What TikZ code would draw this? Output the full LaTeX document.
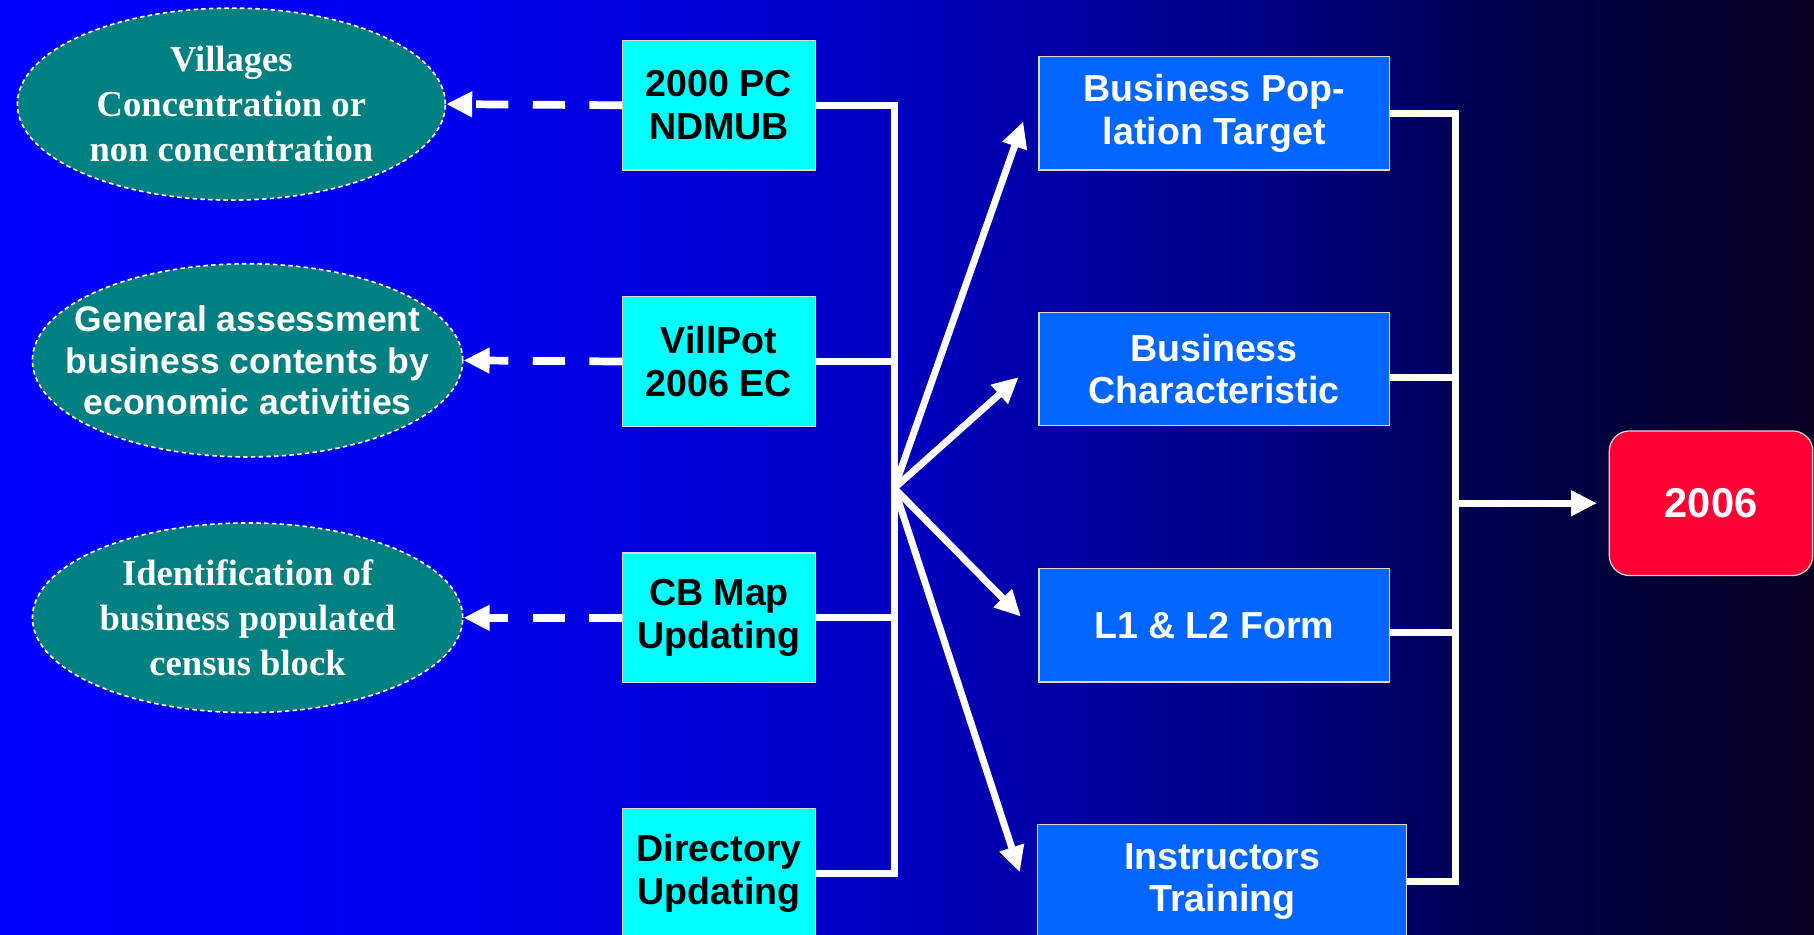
\documentclass[tikz,border=0pt]{standalone}
\usepackage{fontspec}
\setmainfont{Liberation Serif}
\setsansfont{Liberation Sans}
\usetikzlibrary{arrows.meta,shapes.geometric,calc}
\pgfdeclarehorizontalshading{bgshade}{100bp}{rgb(0bp)=(0,0,1); rgb(25bp)=(0,0,1); rgb(37.5bp)=(0,0,0.93); rgb(48.5bp)=(0,0,0.78); rgb(61bp)=(0,0,0.48); rgb(67.5bp)=(0,0,0.27); rgb(75bp)=(0.03,0,0.13); rgb(100bp)=(0.03,0,0.13)}
\definecolor{cyanfill}{RGB}{0,255,255}
\definecolor{bluefill}{RGB}{0,102,255}
\definecolor{tealfill}{RGB}{0,128,128}
\definecolor{redfill}{RGB}{255,0,51}
\tikzset{
  boxbase/.style={draw=white!85!black, line width=0.6pt, align=center, inner sep=0pt,
    font=\sffamily\bfseries\fontsize{18.5}{21}\selectfont},
  cyanbox/.style={boxbase, fill=cyanfill, text=black, minimum width=3.34cm, minimum height=2.24cm},
  bluebox/.style={boxbase, fill=bluefill, text=white, minimum width=6.06cm, minimum height=1.96cm},
  oval/.style={ellipse, draw=white, line width=0.8pt, dash pattern=on 2.2pt off 1.6pt,
    fill=tealfill, text=white, inner xsep=-0.9cm, inner ysep=-0.5cm, align=center},
  serifoval/.style={oval, font=\rmfamily\bfseries\fontsize{18}{22}\selectfont},
  sansoval/.style={oval, font=\sffamily\bfseries\fontsize{17.5}{20.5}\selectfont},
  wline/.style={draw=white, line width=3.4pt, line join=miter},
  warrow/.style={wline, -{Triangle[length=0.45cm,width=0.42cm]}},
  dasharrow/.style={warrow, line width=3.8pt, dash pattern=on 0.56cm off 0.42cm},
  finalbox/.style={boxbase, fill=redfill, text=white, rounded corners=0.35cm,
    minimum width=3.52cm, minimum height=2.5cm, font=\sffamily\bfseries\fontsize{20.5}{24}\selectfont}
}
\begin{document}
\begin{tikzpicture}[x=0.02cm, y=-0.02cm]
\useasboundingbox (0,0) rectangle (1568,808);
\shade[shading=bgshade] (0,0) rectangle (1568,808);

% ellipses
\node[serifoval, minimum width=7.4cm, minimum height=3.32cm] (e1) at (200,90)
  {Villages\\Concentration or\\non concentration};
\node[sansoval, minimum width=7.44cm, minimum height=3.34cm] (e2) at (214,311.5)
  {General assessment\\business contents by\\economic activities};
\node[serifoval, minimum width=7.44cm, minimum height=3.28cm] (e3) at (214,534)
  {Identification of\\business populated\\census block};

% cyan boxes
\node[cyanbox] (c1) at (621.5,91) {2000 PC\\NDMUB};
\node[cyanbox] (c2) at (621.5,312.5) {VillPot\\2006 EC};
\node[cyanbox] (c3) at (621.5,534) {CB Map\\Updating};
\node[cyanbox] (c4) at (621.5,755) {Directory\\Updating};

% blue boxes
\node[bluebox] (b1) at (1049.5,98) {Business Pop-\\lation Target};
\node[bluebox] (b2) at (1049.5,319) {Business\\Characteristic};
\node[bluebox] (b3) at (1049.5,540.5) {L1 \& L2 Form};
\node[bluebox, minimum width=6.38cm] (b4) at (1056.5,762) {Instructors\\Training};

% final
\node[finalbox] (fin) at (1479,435) {2006};

\coordinate (hub) at (773,422);
\coordinate (busR) at (1258,435);

% dashed arrows
\draw[dasharrow] (c1.west) -- (e1.east);
\draw[dasharrow] (c2.west) -- (e2.east);
\draw[dasharrow] (c3.west) -- (e3.east);

% left bus
\draw[wline] (c1.east) -| (hub) |- (c4.east);
\draw[wline] (c2.east) -- (c2.east -| hub);
\draw[wline] (c3.east) -- (c3.east -| hub);

% fan arrows
\draw[warrow] (hub) -- ([xshift=-0.26cm,yshift=-0.14cm]b1.west);
\draw[warrow] (hub) -- ([xshift=-0.34cm,yshift=-0.14cm]b2.west);
\draw[warrow] (hub) -- ([xshift=-0.30cm,yshift=0.15cm]b3.west);
\draw[warrow] (hub) -- ([xshift=-0.30cm,yshift=0.16cm]b4.west);

% right bus
\draw[wline] (b1.east) -| (busR) |- (b4.east);
\draw[wline] ([yshift=-0.14cm]b2.east) -- ([yshift=-0.14cm]b2.east -| busR);
\draw[wline] ([yshift=-0.13cm]b3.east) -- ([yshift=-0.13cm]b3.east -| busR);
\draw[warrow, shorten >=0.2cm] (busR) -- (fin.west);
\end{tikzpicture}
\end{document}
